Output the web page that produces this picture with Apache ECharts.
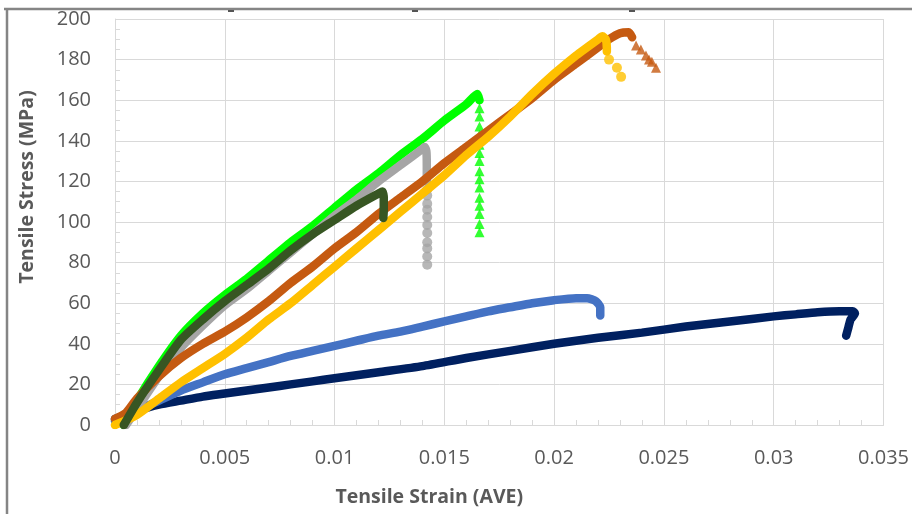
<!DOCTYPE html>
<html>
<head>
<meta charset="utf-8">
<script src="https://cdn.jsdelivr.net/npm/echarts@6/dist/echarts.min.js"></script>
<style>
  html, body { margin: 0; padding: 0; background: #fff; }
  #chart { width: 912px; height: 514px; }
</style>
</head>
<body>
<div id="chart"></div>
<script>
    // tensile curves: [strain, stress MPa]
    var navy = [[0, 3], [0.0005, 5], [0.001, 7], [0.002, 10], [0.003, 12], [0.004, 14], [0.005, 15.5],
        [0.006, 17], [0.007, 18.5], [0.008, 20], [0.009, 21.5], [0.01, 23], [0.012, 26], [0.014, 29],
        [0.016, 33], [0.018, 36.5], [0.02, 40], [0.022, 43], [0.024, 45.5], [0.026, 48.5], [0.028, 51],
        [0.03, 53.5], [0.031, 54.5], [0.032, 55.5], [0.033, 56], [0.0336, 56], [0.0337, 55],
        [0.0335, 52], [0.0334, 48], [0.0333, 44]];
    var blue = [[0, 2], [0.0005, 4], [0.001, 7], [0.002, 12], [0.003, 17], [0.004, 21], [0.005, 25],
        [0.006, 28], [0.007, 31], [0.008, 34], [0.009, 36.5], [0.01, 39], [0.011, 41.5], [0.012, 44],
        [0.013, 46], [0.014, 48.5], [0.015, 51], [0.016, 53.5], [0.017, 56], [0.018, 58], [0.019, 60],
        [0.02, 61.5], [0.021, 62.5], [0.0215, 62.5], [0.0219, 61], [0.0221, 58], [0.0221, 54]];
    var green = [[0.0004, 0], [0.001, 12], [0.002, 29], [0.003, 44], [0.004, 55], [0.005, 64],
        [0.006, 72], [0.007, 81], [0.008, 90], [0.009, 98], [0.01, 107], [0.011, 116], [0.012, 124],
        [0.013, 133], [0.014, 141], [0.015, 150], [0.016, 158], [0.0165, 163], [0.0166, 160]];
    var greenDrop = [[0.0166, 156], [0.0166, 152], [0.0166, 147], [0.0166, 143], [0.0166, 138],
        [0.0166, 134], [0.0166, 130], [0.0166, 125], [0.0166, 121], [0.0166, 117], [0.0166, 112],
        [0.0166, 108], [0.0166, 104], [0.0166, 99], [0.0166, 95]];
    var gray = [[0.0005, 0], [0.001, 8], [0.002, 24], [0.003, 38], [0.004, 49], [0.005, 59],
        [0.006, 67], [0.007, 76], [0.008, 85], [0.009, 94], [0.01, 103], [0.011, 111], [0.012, 120],
        [0.013, 128], [0.014, 136], [0.0141, 137], [0.01418, 135], [0.0142, 128], [0.0142, 120]];
    var grayDrop = [[0.01422, 116], [0.01422, 113], [0.01422, 109], [0.01422, 106], [0.01422, 102.5],
        [0.01422, 98.5], [0.01422, 94.6], [0.01422, 90], [0.01422, 87], [0.01422, 83], [0.01422, 79]];
    var orange = [[0, 3], [0.0005, 6], [0.001, 13], [0.002, 24], [0.003, 33], [0.004, 40], [0.005, 46],
        [0.006, 53], [0.007, 61], [0.008, 70], [0.009, 78], [0.01, 87], [0.011, 95], [0.012, 104],
        [0.013, 112], [0.014, 120], [0.015, 129], [0.016, 137], [0.017, 145], [0.018, 153],
        [0.019, 161], [0.02, 170], [0.021, 178], [0.022, 186], [0.0225, 190], [0.023, 193],
        [0.0234, 193.5], [0.02355, 191]];
    var orangeDrop = [[0.02373, 187], [0.02395, 185], [0.02418, 182], [0.02432, 180], [0.02445, 179],
        [0.02464, 176]];
    var yellow = [[0, 0], [0.001, 5], [0.002, 13], [0.003, 21], [0.004, 28], [0.005, 35], [0.006, 43],
        [0.007, 52], [0.008, 60], [0.009, 69], [0.01, 78], [0.011, 87], [0.012, 96], [0.013, 105],
        [0.014, 114], [0.015, 123], [0.016, 133], [0.017, 142], [0.018, 152], [0.019, 163],
        [0.02, 173], [0.021, 182], [0.0215, 186], [0.022, 190], [0.0222, 191.5], [0.02235, 190],
        [0.0224, 186], [0.0224, 184]];
    var yellowDrop = [[0.0225, 180], [0.02286, 176], [0.02305, 171.5]];
    var darkGreen = [[0.0004, 0], [0.001, 11], [0.002, 27], [0.003, 42], [0.004, 52], [0.005, 61],
        [0.006, 69], [0.007, 77], [0.008, 86], [0.009, 94], [0.01, 101], [0.011, 108], [0.012, 114],
        [0.01218, 115], [0.01224, 112], [0.01224, 106], [0.01222, 102]];

    var xTicks = [0, 0.035, 0.005];
    var yTicks = [0, 200, 20];

    var myChart = echarts.init(document.getElementById('chart'));
    var font = '"Open Sans", "Liberation Sans", sans-serif';

    function curve(name, data, color) {
        return {
            name: name, type: 'line', data: data, smooth: 0.2, showSymbol: false, symbol: 'none',
            lineStyle: { color: color, width: 8.5, cap: 'round', join: 'round' }, silent: true
        };
    }
    function drops(name, data, color, symbol) {
        return {
            name: name, type: 'scatter', data: data, symbol: symbol, symbolSize: 10,
            itemStyle: { color: color }, silent: true
        };
    }

    var option = {
        animation: false,
        grid: { left: 115, right: 28, top: 19, bottom: 89 },
        xAxis: {
            type: 'value', min: xTicks[0], max: xTicks[1], interval: xTicks[2],
            name: 'Tensile Strain (AVE)', nameLocation: 'middle', nameGap: 62,
            nameTextStyle: { fontFamily: font, fontWeight: 'bold', fontSize: 19.5, color: '#595959', padding: [0, 140, 0, 0] },
            axisLine: { show: true, lineStyle: { color: '#d9d9d9' } },
            axisTick: { show: true, inside: true, length: 5, lineStyle: { color: '#d9d9d9' } },
            minorTick: { show: true, splitNumber: 5, length: 5, lineStyle: { color: '#d9d9d9' } },
            axisLabel: {
                fontFamily: font, fontSize: 20, color: '#595959', margin: 23,
                formatter: function (v) { return String(+v.toFixed(3)); }
            },
            splitLine: { show: true, lineStyle: { color: '#d9d9d9' } }
        },
        yAxis: {
            type: 'value', min: yTicks[0], max: yTicks[1], interval: yTicks[2],
            name: 'Tensile Stress (MPa)', nameLocation: 'middle', nameGap: 78,
            nameTextStyle: { fontFamily: font, fontWeight: 'bold', fontSize: 19.5, color: '#595959', padding: [0, 0, 0, 70] },
            axisLine: { show: true, lineStyle: { color: '#d9d9d9' } },
            axisTick: { show: true, inside: true, length: 5, lineStyle: { color: '#d9d9d9' } },
            minorTick: { show: true, splitNumber: 4, length: 5, lineStyle: { color: '#d9d9d9' } },
            axisLabel: { fontFamily: font, fontSize: 20, color: '#595959', margin: 24 },
            splitLine: { show: true, lineStyle: { color: '#d9d9d9' } }
        },
        graphic: [
            { type: 'line', shape: { x1: 4, y1: 9, x2: 912, y2: 9 }, style: { stroke: '#858585', lineWidth: 2.5 } },
            { type: 'line', shape: { x1: 7, y1: 9, x2: 7, y2: 514 }, style: { stroke: '#858585', lineWidth: 2.5 } },
            { type: 'rect', shape: { x: 228, y: 10, width: 6, height: 2 }, style: { fill: '#555' } },
            { type: 'rect', shape: { x: 412, y: 10, width: 6, height: 2 }, style: { fill: '#555' } },
            { type: 'rect', shape: { x: 629, y: 10, width: 6, height: 2 }, style: { fill: '#555' } }
        ],
        series: [
            curve('navy', navy, '#002060'),
            curve('blue', blue, '#4472C4'),
            curve('green', green, '#00FF00'),
            drops('greenDrop', greenDrop, '#00FF00', 'triangle'),
            curve('gray', gray, '#A5A5A5'),
            drops('grayDrop', grayDrop, '#A5A5A5', 'circle'),
            curve('orange', orange, '#C55A11'),
            drops('orangeDrop', orangeDrop, '#C55A11', 'triangle'),
            curve('yellow', yellow, '#FFC000'),
            drops('yellowDrop', yellowDrop, '#FFC000', 'circle'),
            curve('darkGreen', darkGreen, '#375623')
        ]
    };
    myChart.setOption(option);
</script>
</body>
</html>
